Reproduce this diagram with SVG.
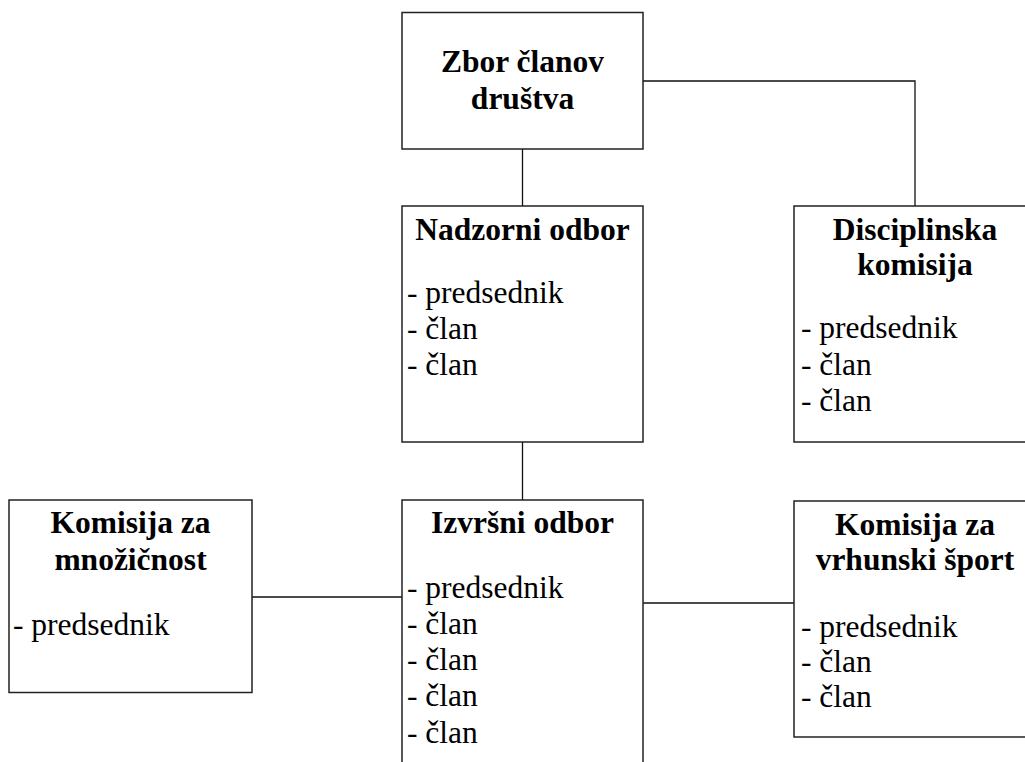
<svg xmlns="http://www.w3.org/2000/svg" width="1025" height="762" viewBox="0 0 1025 762">
<style>
.box{fill:#fff;stroke:#222;stroke-width:1.5}
.ln{fill:none;stroke:#111;stroke-width:1.3}
.t{font-family:"Liberation Serif","Times New Roman",serif;font-size:31.5px;font-weight:bold;fill:#000;text-anchor:middle}
.l{font-family:"Liberation Serif","Times New Roman",serif;font-size:31.5px;fill:#000}
</style>
<rect width="1025" height="762" fill="#fff"/>
<g id="connectors">
<line class="ln" x1="522.5" y1="149" x2="522.5" y2="206"/>
<polyline class="ln" points="643,81 915,81 915,206"/>
<line class="ln" x1="522.5" y1="442" x2="522.5" y2="500"/>
<line class="ln" x1="252" y1="597" x2="402" y2="597"/>
<line class="ln" x1="643" y1="603" x2="794" y2="603"/>
</g>
<g id="zbor">
<rect class="box" x="402" y="12.5" width="241" height="136.5"/>
<text class="t" x="522.5" y="72">Zbor članov</text>
<text class="t" x="522.5" y="109">društva</text>
</g>
<g id="nadzorni">
<rect class="box" x="402" y="206" width="241" height="236"/>
<text class="t" x="522.5" y="240">Nadzorni odbor</text>
<text class="l" x="407" y="303">- predsednik</text>
<text class="l" x="407" y="339">- član</text>
<text class="l" x="407" y="375">- član</text>
</g>
<g id="disciplinska">
<rect class="box" x="794" y="206" width="242" height="236"/>
<text class="t" x="915" y="240">Disciplinska</text>
<text class="t" x="915" y="275">komisija</text>
<text class="l" x="801" y="338">- predsednik</text>
<text class="l" x="801" y="375">- član</text>
<text class="l" x="801" y="411">- član</text>
</g>
<g id="mnozicnost">
<rect class="box" x="9" y="500" width="243" height="192.5"/>
<text class="t" x="130.5" y="533">Komisija za</text>
<text class="t" x="130.5" y="570">množičnost</text>
<text class="l" x="13" y="635">- predsednik</text>
</g>
<g id="izvrsni">
<rect class="box" x="402" y="500" width="241" height="280"/>
<text class="t" x="522.5" y="533">Izvršni odbor</text>
<text class="l" x="407" y="598">- predsednik</text>
<text class="l" x="407" y="634">- član</text>
<text class="l" x="407" y="670">- član</text>
<text class="l" x="407" y="706">- član</text>
<text class="l" x="407" y="743">- član</text>
</g>
<g id="vrhunski">
<rect class="box" x="794" y="501" width="242" height="236"/>
<text class="t" x="915" y="535">Komisija za</text>
<text class="t" x="915" y="570">vrhunski šport</text>
<text class="l" x="801" y="637">- predsednik</text>
<text class="l" x="801" y="672">- član</text>
<text class="l" x="801" y="707">- član</text>
</g>
</svg>
